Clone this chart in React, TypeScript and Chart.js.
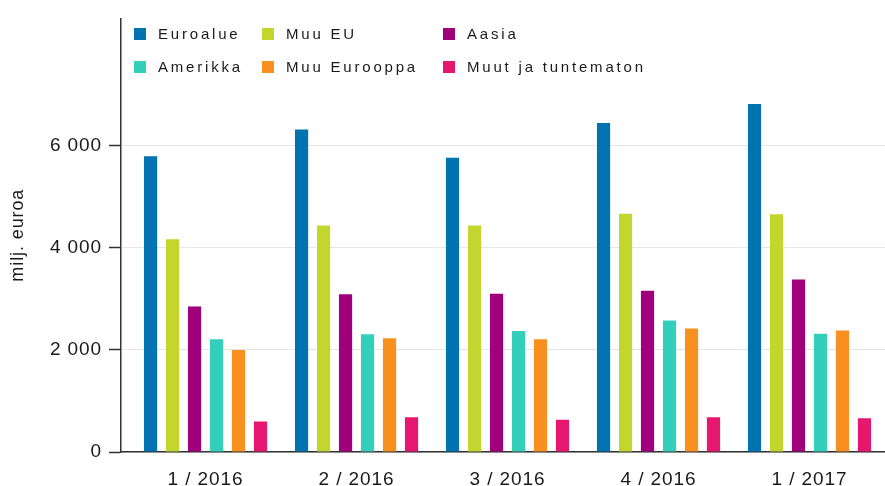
import React, { useEffect, useRef } from 'react';
import { Chart, registerables } from 'chart.js';

Chart.register(...registerables);

// ---- data ----
const categories = ['1 / 2016', '2 / 2016', '3 / 2016', '4 / 2016', '1 / 2017'];
const seriesNames = ['Euroalue', 'Muu EU', 'Aasia', 'Amerikka', 'Muu Eurooppa', 'Muut ja tuntematon'];
const euroalue = [5800, 6320, 5770, 6450, 6820];
const muuEU = [4170, 4440, 4440, 4670, 4660];
const aasia = [2850, 3090, 3100, 3160, 3380];
const amerikka = [2210, 2310, 2370, 2580, 2320];
const muuEurooppa = [2000, 2230, 2210, 2420, 2380];
const muut = [600, 680, 630, 680, 660];
const yTicks = [0, 2000, 4000, 6000];
const yTitle = 'milj. euroa';

const seriesValues = [euroalue, muuEU, aasia, amerikka, muuEurooppa, muut];
const colors = ['#0073b0', '#c3d62e', '#a1007d', '#34cfbb', '#f7901e', '#e5176f'];

const FONT = '"Liberation Sans", Arial, sans-serif';
const TEXT = '#1a1a1a';

const fmt = (v: number) => String(Math.round(v)).replace(/\B(?=(\d{3})+(?!\d))/g, ' ');

const spacingPlugin = {
  id: 'letterSpacing',
  beforeUpdate(chart: any) {
    chart.ctx.letterSpacing = '0.9px';
  },
  beforeDraw(chart: any) {
    chart.ctx.letterSpacing = '0.9px';
  },
};

const legendPlugin = {
  id: 'gridLegend',
  afterDraw(chart: any) {
    const ctx = chart.ctx;
    ctx.save();
    ctx.letterSpacing = '2.8px';
    ctx.font = `15px ${FONT}`;
    ctx.textBaseline = 'middle';
    ctx.textAlign = 'left';
    const colX = [134, 262, 443];
    const rowY = [34, 67];
    const box = 12;
    chart.data.datasets.forEach((ds: any, i: number) => {
      const c = i % 3;
      const r = Math.floor(i / 3);
      const x = colX[c];
      const y = rowY[r];
      ctx.fillStyle = ds.backgroundColor;
      ctx.fillRect(x, y - box / 2, box, box);
      ctx.fillStyle = TEXT;
      ctx.fillText(ds.label, x + 24, y + 1);
    });
    ctx.restore();
  },
};

export default function App() {
  const ref = useRef<HTMLCanvasElement | null>(null);

  useEffect(() => {
    document.body.style.margin = '0';
    const canvas = ref.current;
    if (!canvas) return;
    const chart = new Chart(canvas, {
      type: 'bar',
      data: {
        datasets: seriesValues.map((vals, k) => ({
          label: seriesNames[k],
          data: vals.map((v, i) => ({ x: i, y: v })),
          backgroundColor: colors[k],
          borderWidth: 0,
          barPercentage: 0.6,
          categoryPercentage: 0.874,
        })),
      },
      options: {
        responsive: false,
        maintainAspectRatio: false,
        animation: false,
        layout: { padding: { top: 13, left: 0, right: 0, bottom: 0 } },
        plugins: {
          legend: { display: false },
          tooltip: { enabled: false },
          title: { display: false },
        },
        scales: {
          x: {
            type: 'linear',
            min: -0.56,
            max: 4.5,
            offset: false,
            bounds: 'ticks',
            afterBuildTicks: (s: any) => {
              s.ticks = categories.map((_, i) => ({ value: i }));
            },
            afterFit: (s: any) => {
              s.height = 34;
            },
            ticks: {
              callback: (v: any) => categories[v] ?? '',
              font: { family: FONT, size: 19 },
              color: TEXT,
              padding: 16,
              autoSkip: false,
              maxRotation: 0,
            },
            grid: { display: false, drawTicks: false, offset: false },
            border: { display: true, color: '#333333', width: 1.5 },
          },
          y: {
            type: 'linear',
            min: 0,
            max: 8500,
            afterBuildTicks: (s: any) => {
              s.ticks = yTicks.map((v) => ({ value: v }));
            },
            afterFit: (s: any) => {
              s.width = 121;
            },
            ticks: {
              callback: (v: any) => fmt(Number(v)),
              font: { family: FONT, size: 19 },
              color: TEXT,
              padding: 7,
            },
            grid: {
              color: '#e6e6e6',
              lineWidth: 1,
              tickColor: '#333333',
              tickLength: 12,
              tickWidth: 1.5,
            },
            border: { display: true, color: '#333333', width: 1.5 },
            title: {
              display: true,
              text: yTitle,
              font: { family: FONT, size: 18 },
              color: TEXT,
              padding: { top: 7, bottom: 0 },
            },
          },
        },
      } as any,
      plugins: [spacingPlugin, legendPlugin],
    });
    return () => chart.destroy();
  }, []);

  return (
    <div style={{ width: 885, height: 486, position: 'relative' }}>
      <canvas ref={ref} width={885} height={486} />
    </div>
  );
}
